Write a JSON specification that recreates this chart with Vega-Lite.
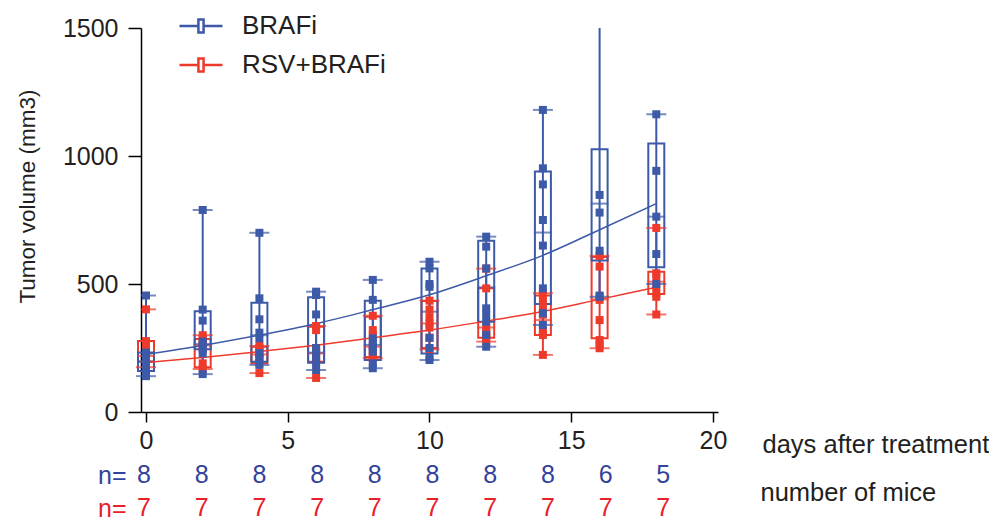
{
  "$schema": "https://vega.github.io/schema/vega-lite/v6.json",
  "background": "white",
  "padding": {"left": 16, "top": 3, "right": 0, "bottom": 0},
  "bounds": "flush",
  "spacing": 63,
  "resolve": {"scale": {"color": "independent"}},
  "config": {
    "font": "Liberation Sans",
    "view": {"stroke": null},
    "axis": {"grid": false, "labelFont": "Liberation Sans", "titleFont": "Liberation Sans", "labelColor": "#231f20", "titleColor": "#231f20", "titleFontWeight": "normal", "domainColor": "#000000", "tickColor": "#000000", "domainWidth": 1.5, "tickWidth": 1.5},
    "axisX": {"tickSize": 10, "labelPadding": 6, "labelFontSize": 25, "titleFontSize": 25.5, "titleX": 621, "titleY": 32, "titleAlign": "left", "titleBaseline": "middle", "labelFlush": false},
    "axisY": {"tickSize": 13, "labelPadding": 10, "labelFontSize": 25, "titleFontSize": 22.5, "titleAngle": -90, "titleX": -114, "titleY": 168, "titleAlign": "center", "titleBaseline": "middle"}
  },
  "datasets": {
    "pts": [
      {"day": 0, "group": "RSV+BRAFi", "value": 401}, {"day": 0, "group": "RSV+BRAFi", "value": 277}, {"day": 0, "group": "RSV+BRAFi", "value": 260}, {"day": 0, "group": "RSV+BRAFi", "value": 230}, {"day": 0, "group": "RSV+BRAFi", "value": 215}, {"day": 0, "group": "RSV+BRAFi", "value": 200}, {"day": 0, "group": "RSV+BRAFi", "value": 175},
      {"day": 2, "group": "RSV+BRAFi", "value": 300}, {"day": 2, "group": "RSV+BRAFi", "value": 285}, {"day": 2, "group": "RSV+BRAFi", "value": 275}, {"day": 2, "group": "RSV+BRAFi", "value": 260}, {"day": 2, "group": "RSV+BRAFi", "value": 250}, {"day": 2, "group": "RSV+BRAFi", "value": 190}, {"day": 2, "group": "RSV+BRAFi", "value": 168},
      {"day": 4, "group": "RSV+BRAFi", "value": 258}, {"day": 4, "group": "RSV+BRAFi", "value": 250}, {"day": 4, "group": "RSV+BRAFi", "value": 245}, {"day": 4, "group": "RSV+BRAFi", "value": 225}, {"day": 4, "group": "RSV+BRAFi", "value": 210}, {"day": 4, "group": "RSV+BRAFi", "value": 190}, {"day": 4, "group": "RSV+BRAFi", "value": 152},
      {"day": 6, "group": "RSV+BRAFi", "value": 336}, {"day": 6, "group": "RSV+BRAFi", "value": 320}, {"day": 6, "group": "RSV+BRAFi", "value": 250}, {"day": 6, "group": "RSV+BRAFi", "value": 229}, {"day": 6, "group": "RSV+BRAFi", "value": 210}, {"day": 6, "group": "RSV+BRAFi", "value": 196}, {"day": 6, "group": "RSV+BRAFi", "value": 133},
      {"day": 8, "group": "RSV+BRAFi", "value": 376}, {"day": 8, "group": "RSV+BRAFi", "value": 320}, {"day": 8, "group": "RSV+BRAFi", "value": 300}, {"day": 8, "group": "RSV+BRAFi", "value": 255}, {"day": 8, "group": "RSV+BRAFi", "value": 240}, {"day": 8, "group": "RSV+BRAFi", "value": 222}, {"day": 8, "group": "RSV+BRAFi", "value": 210},
      {"day": 10, "group": "RSV+BRAFi", "value": 435}, {"day": 10, "group": "RSV+BRAFi", "value": 400}, {"day": 10, "group": "RSV+BRAFi", "value": 370}, {"day": 10, "group": "RSV+BRAFi", "value": 346}, {"day": 10, "group": "RSV+BRAFi", "value": 330}, {"day": 10, "group": "RSV+BRAFi", "value": 290}, {"day": 10, "group": "RSV+BRAFi", "value": 245},
      {"day": 12, "group": "RSV+BRAFi", "value": 560}, {"day": 12, "group": "RSV+BRAFi", "value": 483}, {"day": 12, "group": "RSV+BRAFi", "value": 330}, {"day": 12, "group": "RSV+BRAFi", "value": 310}, {"day": 12, "group": "RSV+BRAFi", "value": 300}, {"day": 12, "group": "RSV+BRAFi", "value": 290}, {"day": 12, "group": "RSV+BRAFi", "value": 275},
      {"day": 14, "group": "RSV+BRAFi", "value": 464}, {"day": 14, "group": "RSV+BRAFi", "value": 440}, {"day": 14, "group": "RSV+BRAFi", "value": 411}, {"day": 14, "group": "RSV+BRAFi", "value": 380}, {"day": 14, "group": "RSV+BRAFi", "value": 320}, {"day": 14, "group": "RSV+BRAFi", "value": 301}, {"day": 14, "group": "RSV+BRAFi", "value": 223},
      {"day": 16, "group": "RSV+BRAFi", "value": 610}, {"day": 16, "group": "RSV+BRAFi", "value": 568}, {"day": 16, "group": "RSV+BRAFi", "value": 438}, {"day": 16, "group": "RSV+BRAFi", "value": 359}, {"day": 16, "group": "RSV+BRAFi", "value": 281}, {"day": 16, "group": "RSV+BRAFi", "value": 265}, {"day": 16, "group": "RSV+BRAFi", "value": 249},
      {"day": 18, "group": "RSV+BRAFi", "value": 719}, {"day": 18, "group": "RSV+BRAFi", "value": 542}, {"day": 18, "group": "RSV+BRAFi", "value": 530}, {"day": 18, "group": "RSV+BRAFi", "value": 490}, {"day": 18, "group": "RSV+BRAFi", "value": 464}, {"day": 18, "group": "RSV+BRAFi", "value": 450}, {"day": 18, "group": "RSV+BRAFi", "value": 381},
      {"day": 0, "group": "BRAFi", "value": 455}, {"day": 0, "group": "BRAFi", "value": 232}, {"day": 0, "group": "BRAFi", "value": 215}, {"day": 0, "group": "BRAFi", "value": 200}, {"day": 0, "group": "BRAFi", "value": 190}, {"day": 0, "group": "BRAFi", "value": 170}, {"day": 0, "group": "BRAFi", "value": 155}, {"day": 0, "group": "BRAFi", "value": 140},
      {"day": 2, "group": "BRAFi", "value": 789}, {"day": 2, "group": "BRAFi", "value": 400}, {"day": 2, "group": "BRAFi", "value": 357}, {"day": 2, "group": "BRAFi", "value": 275}, {"day": 2, "group": "BRAFi", "value": 260}, {"day": 2, "group": "BRAFi", "value": 245}, {"day": 2, "group": "BRAFi", "value": 229}, {"day": 2, "group": "BRAFi", "value": 148},
      {"day": 4, "group": "BRAFi", "value": 700}, {"day": 4, "group": "BRAFi", "value": 444}, {"day": 4, "group": "BRAFi", "value": 362}, {"day": 4, "group": "BRAFi", "value": 310}, {"day": 4, "group": "BRAFi", "value": 288}, {"day": 4, "group": "BRAFi", "value": 230}, {"day": 4, "group": "BRAFi", "value": 211}, {"day": 4, "group": "BRAFi", "value": 184},
      {"day": 6, "group": "BRAFi", "value": 470}, {"day": 6, "group": "BRAFi", "value": 457}, {"day": 6, "group": "BRAFi", "value": 381}, {"day": 6, "group": "BRAFi", "value": 250}, {"day": 6, "group": "BRAFi", "value": 235}, {"day": 6, "group": "BRAFi", "value": 215}, {"day": 6, "group": "BRAFi", "value": 195}, {"day": 6, "group": "BRAFi", "value": 164},
      {"day": 8, "group": "BRAFi", "value": 516}, {"day": 8, "group": "BRAFi", "value": 438}, {"day": 8, "group": "BRAFi", "value": 288}, {"day": 8, "group": "BRAFi", "value": 268}, {"day": 8, "group": "BRAFi", "value": 255}, {"day": 8, "group": "BRAFi", "value": 236}, {"day": 8, "group": "BRAFi", "value": 190}, {"day": 8, "group": "BRAFi", "value": 171},
      {"day": 10, "group": "BRAFi", "value": 587}, {"day": 10, "group": "BRAFi", "value": 561}, {"day": 10, "group": "BRAFi", "value": 500}, {"day": 10, "group": "BRAFi", "value": 489}, {"day": 10, "group": "BRAFi", "value": 290}, {"day": 10, "group": "BRAFi", "value": 250}, {"day": 10, "group": "BRAFi", "value": 215}, {"day": 10, "group": "BRAFi", "value": 203},
      {"day": 12, "group": "BRAFi", "value": 685}, {"day": 12, "group": "BRAFi", "value": 646}, {"day": 12, "group": "BRAFi", "value": 561}, {"day": 12, "group": "BRAFi", "value": 405}, {"day": 12, "group": "BRAFi", "value": 379}, {"day": 12, "group": "BRAFi", "value": 353}, {"day": 12, "group": "BRAFi", "value": 301}, {"day": 12, "group": "BRAFi", "value": 255},
      {"day": 14, "group": "BRAFi", "value": 1180}, {"day": 14, "group": "BRAFi", "value": 952}, {"day": 14, "group": "BRAFi", "value": 889}, {"day": 14, "group": "BRAFi", "value": 750}, {"day": 14, "group": "BRAFi", "value": 650}, {"day": 14, "group": "BRAFi", "value": 483}, {"day": 14, "group": "BRAFi", "value": 386}, {"day": 14, "group": "BRAFi", "value": 340},
      {"day": 16, "group": "BRAFi", "value": 1560}, {"day": 16, "group": "BRAFi", "value": 848}, {"day": 16, "group": "BRAFi", "value": 779}, {"day": 16, "group": "BRAFi", "value": 630}, {"day": 16, "group": "BRAFi", "value": 455}, {"day": 16, "group": "BRAFi", "value": 450},
      {"day": 18, "group": "BRAFi", "value": 1163}, {"day": 18, "group": "BRAFi", "value": 942}, {"day": 18, "group": "BRAFi", "value": 763}, {"day": 18, "group": "BRAFi", "value": 617}, {"day": 18, "group": "BRAFi", "value": 500}
    ],
    "box": [
      {"day": 0, "group": "RSV+BRAFi", "min": 175, "q1": 197, "median": 219, "q3": 277, "max": 401},
      {"day": 2, "group": "RSV+BRAFi", "min": 168, "q1": 175, "median": 260, "q3": 285, "max": 300},
      {"day": 4, "group": "RSV+BRAFi", "min": 152, "q1": 190, "median": 225, "q3": 255, "max": 258},
      {"day": 6, "group": "RSV+BRAFi", "min": 133, "q1": 196, "median": 229, "q3": 333, "max": 336},
      {"day": 8, "group": "RSV+BRAFi", "min": 210, "q1": 215, "median": 255, "q3": 372, "max": 376},
      {"day": 10, "group": "RSV+BRAFi", "min": 245, "q1": 250, "median": 346, "q3": 434, "max": 435},
      {"day": 12, "group": "RSV+BRAFi", "min": 275, "q1": 290, "median": 330, "q3": 483, "max": 560},
      {"day": 14, "group": "RSV+BRAFi", "min": 223, "q1": 301, "median": 359, "q3": 455, "max": 464},
      {"day": 16, "group": "RSV+BRAFi", "min": 249, "q1": 288, "median": 440, "q3": 605, "max": 610},
      {"day": 18, "group": "RSV+BRAFi", "min": 381, "q1": 461, "median": 509, "q3": 548, "max": 719},
      {"day": 0, "group": "BRAFi", "min": 140, "q1": 160, "median": 197, "q3": 232, "max": 455},
      {"day": 2, "group": "BRAFi", "min": 148, "q1": 245, "median": 265, "q3": 394, "max": 789},
      {"day": 4, "group": "BRAFi", "min": 184, "q1": 196, "median": 300, "q3": 427, "max": 700},
      {"day": 6, "group": "BRAFi", "min": 164, "q1": 192, "median": 232, "q3": 448, "max": 470},
      {"day": 8, "group": "BRAFi", "min": 171, "q1": 203, "median": 262, "q3": 435, "max": 516},
      {"day": 10, "group": "BRAFi", "min": 203, "q1": 229, "median": 392, "q3": 561, "max": 587},
      {"day": 12, "group": "BRAFi", "min": 255, "q1": 353, "median": 487, "q3": 669, "max": 685},
      {"day": 14, "group": "BRAFi", "min": 340, "q1": 422, "median": 701, "q3": 939, "max": 1180},
      {"day": 16, "group": "BRAFi", "min": 450, "q1": 592, "median": 814, "q3": 1026, "max": 1560},
      {"day": 18, "group": "BRAFi", "min": 500, "q1": 565, "median": 763, "q3": 1049, "max": 1163}
    ],
    "fit": [
      {"day": 0, "group": "RSV+BRAFi", "value": 193}, {"day": 2, "group": "RSV+BRAFi", "value": 213}, {"day": 4, "group": "RSV+BRAFi", "value": 236}, {"day": 6, "group": "RSV+BRAFi", "value": 261}, {"day": 8, "group": "RSV+BRAFi", "value": 290}, {"day": 10, "group": "RSV+BRAFi", "value": 320}, {"day": 12, "group": "RSV+BRAFi", "value": 355}, {"day": 14, "group": "RSV+BRAFi", "value": 393}, {"day": 16, "group": "RSV+BRAFi", "value": 440}, {"day": 18, "group": "RSV+BRAFi", "value": 487},
      {"day": 0, "group": "BRAFi", "value": 225}, {"day": 2, "group": "BRAFi", "value": 260}, {"day": 4, "group": "BRAFi", "value": 300}, {"day": 6, "group": "BRAFi", "value": 345}, {"day": 8, "group": "BRAFi", "value": 400}, {"day": 10, "group": "BRAFi", "value": 458}, {"day": 12, "group": "BRAFi", "value": 532}, {"day": 14, "group": "BRAFi", "value": 612}, {"day": 16, "group": "BRAFi", "value": 712}, {"day": 18, "group": "BRAFi", "value": 814}
    ],
    "n": [
      {"day": 0, "group": "BRAFi", "n": 8}, {"day": 2, "group": "BRAFi", "n": 8}, {"day": 4, "group": "BRAFi", "n": 8}, {"day": 6, "group": "BRAFi", "n": 8}, {"day": 8, "group": "BRAFi", "n": 8}, {"day": 10, "group": "BRAFi", "n": 8}, {"day": 12, "group": "BRAFi", "n": 8}, {"day": 14, "group": "BRAFi", "n": 8}, {"day": 16, "group": "BRAFi", "n": 6}, {"day": 18, "group": "BRAFi", "n": 5},
      {"day": 0, "group": "RSV+BRAFi", "n": 7}, {"day": 2, "group": "RSV+BRAFi", "n": 7}, {"day": 4, "group": "RSV+BRAFi", "n": 7}, {"day": 6, "group": "RSV+BRAFi", "n": 7}, {"day": 8, "group": "RSV+BRAFi", "n": 7}, {"day": 10, "group": "RSV+BRAFi", "n": 7}, {"day": 12, "group": "RSV+BRAFi", "n": 7}, {"day": 14, "group": "RSV+BRAFi", "n": 7}, {"day": 16, "group": "RSV+BRAFi", "n": 7}, {"day": 18, "group": "RSV+BRAFi", "n": 7}
    ]
  },
  "vconcat": [
    {
      "width": 577,
      "height": 384,
      "encoding": {
        "x": {"field": "day", "type": "quantitative", "scale": {"domain": [0, 20], "nice": false}, "axis": {"values": [0, 5, 10, 15, 20], "title": "days after treatment"}}
      },
      "layer": [
        {
          "data": {"name": "box"},
          "mark": {"type": "rule", "strokeWidth": 2, "clip": true},
          "encoding": {
            "y": {"field": "min", "type": "quantitative", "scale": {"domain": [0, 1500], "nice": false}, "axis": {"values": [0, 500, 1000, 1500], "format": "d"}, "title": "Tumor volume (mm3)"},
            "y2": {"field": "max"},
            "stroke": {"field": "group", "type": "nominal", "scale": {"domain": ["BRAFi", "RSV+BRAFi"], "range": ["#3d5aa9", "#ee3a2b"]},
              "legend": {"orient": "none", "legendX": 37, "legendY": -25, "title": null, "symbolType": "M-1,0H-0.12M0.12,0H1M-0.12,-0.3H0.12V0.3H-0.12Z", "symbolSize": 1849, "symbolStrokeWidth": 2.5, "symbolFillColor": "transparent", "labelFontSize": 26, "labelOffset": 18, "rowPadding": 3, "labelColor": "#231f20", "labelFont": "Liberation Sans", "padding": 0}}
          }
        },
        {
          "data": {"name": "box"},
          "mark": {"type": "bar", "width": 16, "fill": "transparent", "strokeWidth": 2},
          "encoding": {
            "y": {"field": "q1", "type": "quantitative", "title": "Tumor volume (mm3)"},
            "y2": {"field": "q3"},
            "stroke": {"field": "group", "type": "nominal"}
          }
        },
        {
          "data": {"name": "box"},
          "mark": {"type": "tick", "orient": "horizontal", "size": 18, "thickness": 2},
          "encoding": {
            "y": {"field": "median", "type": "quantitative", "title": "Tumor volume (mm3)"},
            "color": {"field": "group", "type": "nominal", "scale": {"domain": ["BRAFi", "RSV+BRAFi"], "range": ["#3d5aa9", "#ee3a2b"]}, "legend": null}
          }
        },
        {
          "data": {"name": "box"},
          "mark": {"type": "tick", "orient": "horizontal", "size": 20, "thickness": 2, "clip": true},
          "encoding": {
            "y": {"field": "max", "type": "quantitative", "title": "Tumor volume (mm3)"},
            "color": {"field": "group", "type": "nominal", "legend": null}
          }
        },
        {
          "data": {"name": "box"},
          "mark": {"type": "tick", "orient": "horizontal", "size": 20, "thickness": 2},
          "encoding": {
            "y": {"field": "min", "type": "quantitative", "title": "Tumor volume (mm3)"},
            "color": {"field": "group", "type": "nominal", "legend": null}
          }
        },
        {
          "data": {"name": "fit"},
          "mark": {"type": "line", "strokeWidth": 1.5, "interpolate": "monotone"},
          "encoding": {
            "y": {"field": "value", "type": "quantitative", "title": "Tumor volume (mm3)"},
            "stroke": {"field": "group", "type": "nominal"}
          }
        },
        {
          "data": {"name": "pts"},
          "mark": {"type": "square", "size": 64, "opacity": 1, "clip": true},
          "encoding": {
            "y": {"field": "value", "type": "quantitative", "title": "Tumor volume (mm3)"},
            "color": {"field": "group", "type": "nominal", "legend": null}
          }
        }
      ]
    },
    {
      "width": 577,
      "height": 33,
      "data": {"name": "n"},
      "mark": {"type": "text", "fontSize": 25, "font": "Liberation Sans", "baseline": "middle", "dx": 3},
      "encoding": {
        "x": {"field": "day", "type": "quantitative", "scale": {"domain": [0, 20], "nice": false},
          "axis": {"title": "number of mice", "labels": false, "ticks": false, "tickSize": 0, "domain": false, "titleX": 619, "titleY": -16, "titleAlign": "left", "titleBaseline": "middle", "titleFontSize": 25.5}},
        "y": {"field": "group", "type": "nominal", "scale": {"type": "point", "padding": 0, "domain": ["BRAFi", "RSV+BRAFi"]},
          "axis": {"title": null, "domain": false, "ticks": false, "tickSize": 0, "labelExpr": "'n='", "labelFontSize": 25, "labelPadding": 15, "labelBaseline": "middle", "labelColor": {"expr": "datum.value == 'BRAFi' ? '#33429a' : '#e8202a'"}}},
        "text": {"field": "n", "type": "nominal"},
        "color": {"field": "group", "type": "nominal", "scale": {"domain": ["BRAFi", "RSV+BRAFi"], "range": ["#33429a", "#e8202a"]}, "legend": null}
      }
    }
  ]
}
